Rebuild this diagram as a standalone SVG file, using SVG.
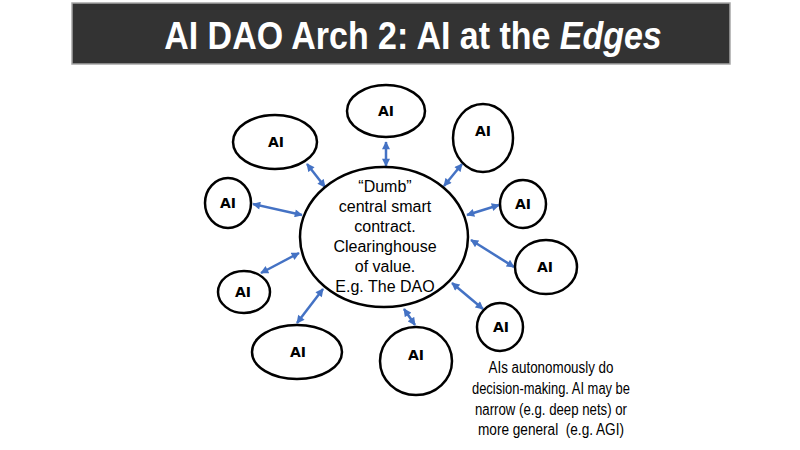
<svg xmlns="http://www.w3.org/2000/svg" width="800" height="450" viewBox="0 0 800 450">
<defs>
<marker id="ah" viewBox="0 0 10 10" refX="9" refY="5" markerWidth="3.6" markerHeight="3.2" orient="auto-start-reverse" markerUnits="strokeWidth">
<path d="M0,0 L10,5 L0,10 z" fill="#4472C4"/>
</marker>
<style>
.node{fill:#fff;stroke:#000;stroke-width:2.5}
.ai{font-family:"DejaVu Sans",sans-serif;font-weight:bold;font-size:14px;text-anchor:middle;fill:#000}
.ctr{font-family:"Liberation Sans",sans-serif;font-size:16px;text-anchor:middle;fill:#000}
.note{font-family:"Liberation Sans",sans-serif;font-size:16px;text-anchor:middle;fill:#000}
.ttl{font-family:"Liberation Sans",sans-serif;font-weight:bold;font-size:39px;fill:#fff;text-anchor:middle}
.conn line{stroke:#4472C4;stroke-width:2.5;marker-start:url(#ah);marker-end:url(#ah)}
</style>
</defs>
<rect width="800" height="450" fill="#fff"/>
<g id="title">
<rect x="72" y="3" width="658" height="61" fill="#333333" stroke="#a6a6a6" stroke-width="1.5"/>
<text class="ttl" transform="translate(413,49) scale(0.871,1)" x="0" y="0">AI DAO Arch 2: AI at the <tspan font-style="italic">Edges</tspan></text>
</g>
<g class="conn" id="connectors">
<line x1="386" y1="142" x2="386" y2="166"/>
<line x1="307" y1="164" x2="325" y2="187"/>
<line x1="253" y1="204" x2="302" y2="215"/>
<line x1="261" y1="273" x2="299" y2="253"/>
<line x1="297" y1="323" x2="323" y2="289"/>
<line x1="404" y1="309" x2="415" y2="325"/>
<line x1="462" y1="164" x2="444" y2="186"/>
<line x1="467" y1="215" x2="499" y2="205"/>
<line x1="471" y1="240" x2="514" y2="267"/>
<line x1="452" y1="283" x2="483" y2="309"/>
</g>
<g id="center">
<ellipse class="node" cx="384" cy="237" rx="84" ry="70"/>
<text class="ctr" x="385" y="192">“Dumb”</text>
<text class="ctr" x="385" y="212">central smart</text>
<text class="ctr" x="385" y="232">contract.</text>
<text class="ctr" x="385" y="252">Clearinghouse</text>
<text class="ctr" x="385" y="272">of value.</text>
<text class="ctr" x="385" y="292">E.g. The DAO</text>
</g>
<g id="ai-top"><ellipse class="node" cx="386" cy="111" rx="39" ry="26"/><text class="ai" x="386" y="116">AI</text></g>
<g id="ai-upper-left"><ellipse class="node" cx="275" cy="142" rx="42" ry="27"/><text class="ai" x="276" y="147">AI</text></g>
<g id="ai-left"><ellipse class="node" cx="228" cy="203" rx="23" ry="25"/><text class="ai" x="228" y="208">AI</text></g>
<g id="ai-lower-left"><ellipse class="node" cx="244" cy="292" rx="26" ry="21"/><text class="ai" x="243" y="297">AI</text></g>
<g id="ai-bottom-left"><ellipse class="node" cx="297" cy="352" rx="45" ry="27"/><text class="ai" x="298" y="357">AI</text></g>
<g id="ai-bottom"><ellipse class="node" cx="416" cy="361" rx="36" ry="34"/><text class="ai" x="416" y="360">AI</text></g>
<g id="ai-upper-right"><ellipse class="node" cx="483" cy="138" rx="30" ry="34"/><text class="ai" x="483" y="136">AI</text></g>
<g id="ai-right"><ellipse class="node" cx="523" cy="204" rx="23" ry="24"/><text class="ai" x="523" y="209">AI</text></g>
<g id="ai-right-lower"><ellipse class="node" cx="546" cy="267" rx="31" ry="27"/><text class="ai" x="545" y="272">AI</text></g>
<g id="ai-bottom-right"><ellipse class="node" cx="500" cy="327" rx="23" ry="24"/><text class="ai" x="501" y="332">AI</text></g>
<g id="note">
<text class="note" x="551" y="373" textLength="125" lengthAdjust="spacingAndGlyphs">AIs autonomously do</text>
<text class="note" x="551" y="394" textLength="158" lengthAdjust="spacingAndGlyphs">decision-making. AI may be</text>
<text class="note" x="551" y="415" textLength="152" lengthAdjust="spacingAndGlyphs">narrow (e.g. deep nets) or</text>
<text class="note" x="551" y="435" textLength="146" lengthAdjust="spacingAndGlyphs" xml:space="preserve">more general  (e.g. AGI)</text>
</g>
</svg>
